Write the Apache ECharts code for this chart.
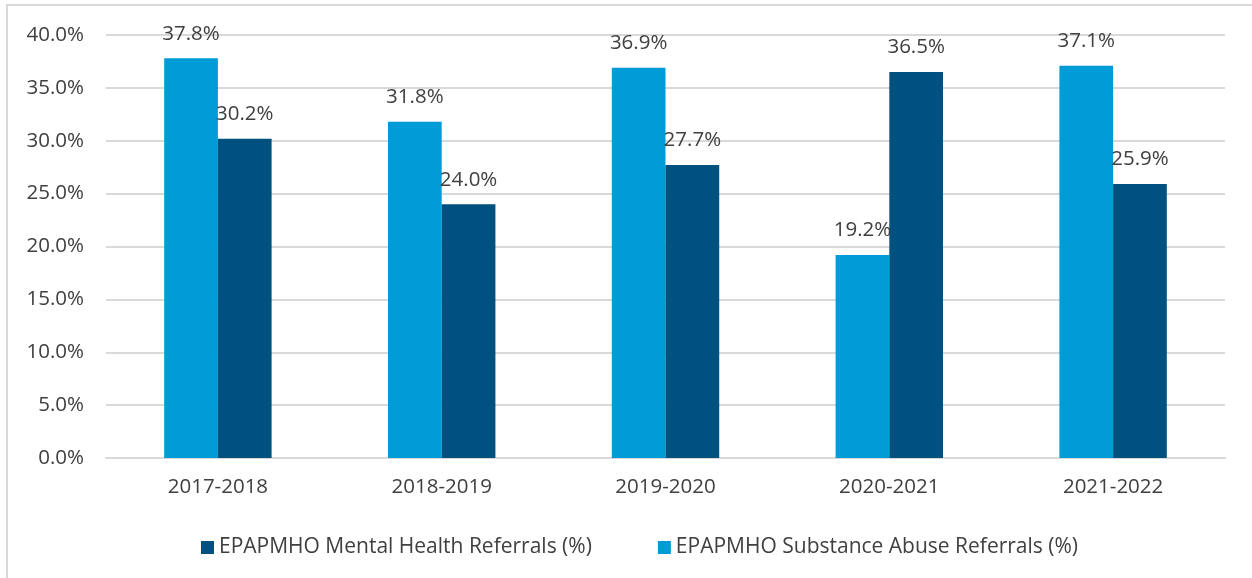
<!DOCTYPE html>
<html>
<head>
<meta charset="utf-8">
<script src="https://cdn.jsdelivr.net/npm/echarts@6/dist/echarts.min.js"></script>
<style>
html,body{margin:0;padding:0;background:#fff;}
#chart{width:1252px;height:578px;}
</style>
</head>
<body>
<div id="chart"></div>
<script>
const categories = ['2017-2018', '2018-2019', '2019-2020', '2020-2021', '2021-2022'];
const substanceAbuse = [37.8, 31.8, 36.9, 19.2, 37.1];
const mentalHealth = [30.2, 24.0, 27.7, 36.5, 25.9];
const seriesNames = ['EPAPMHO Mental Health Referrals (%)', 'EPAPMHO Substance Abuse Referrals (%)'];

const FONT = 'Open Sans';
const TXT = '#404040';
const FS = 20.5;
const chart = echarts.init(document.getElementById('chart'), null, {renderer: 'canvas'});
const labelCfg = {
  show: true, position: 'top', distance: 14,
  fontFamily: FONT, fontSize: FS, color: TXT,
  formatter: p => p.value.toFixed(1) + '%'
};
chart.setOption({
  animation: false,
  backgroundColor: '#fff',
  graphic: [{
    type: 'rect', shape: {x: 7, y: 5, width: 1300, height: 700},
    style: {fill: 'none', stroke: '#d9d9d9', lineWidth: 2}, silent: true, z: -1
  }],
  grid: {left: 106, right: 27, top: 35, bottom: 120, containLabel: false},
  legend: {
    data: [seriesNames[0], seriesNames[1]],
    left: 196, top: 532,
    itemWidth: 13, itemHeight: 13, itemGap: 66,
    icon: 'rect',
    textStyle: {fontFamily: FONT, fontSize: FS + 0.5, color: TXT}
  },
  xAxis: {
    type: 'category', data: categories,
    axisLine: {show: true, lineStyle: {color: '#d9d9d9', width: 2}},
    axisTick: {show: false},
    axisLabel: {fontFamily: FONT, fontSize: FS, color: TXT, margin: 19}
  },
  yAxis: {
    type: 'value', min: 0, max: 40, interval: 5,
    axisLine: {show: false}, axisTick: {show: false},
    splitLine: {lineStyle: {color: '#d9d9d9', width: 2}},
    axisLabel: {fontFamily: FONT, fontSize: FS, color: TXT, margin: 22,
      formatter: v => v.toFixed(1) + '%'}
  },
  series: [
    {
      name: seriesNames[1], type: 'bar', data: substanceAbuse,
      barWidth: '24%', barGap: '0%',
      itemStyle: {color: '#009CD7'},
      label: labelCfg
    },
    {
      name: seriesNames[0], type: 'bar', data: mentalHealth,
      barWidth: '24%',
      itemStyle: {color: '#00517F'},
      label: labelCfg
    }
  ]
});
</script>
</body>
</html>
